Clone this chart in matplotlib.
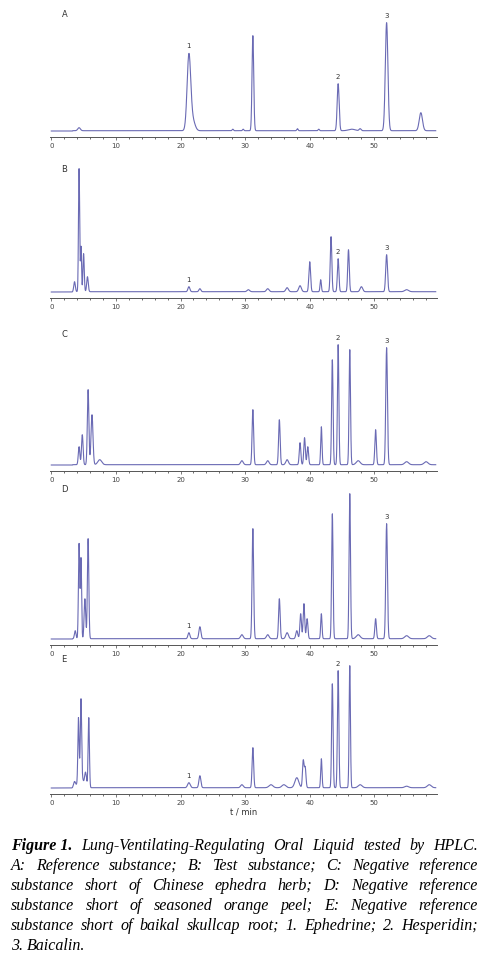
import numpy as np
import matplotlib
matplotlib.use("Agg")
import matplotlib.pyplot as plt
from matplotlib.ticker import MultipleLocator

W, H = 487, 968
LINE = "#6a6ab4"

# peaks: (retention time min, height, width sigma)
peaks_A = [(4.3, 3, 0.2), (21.3, 75, 0.28), (21.9, 10, 0.35), (28.1, 1.5, 0.1), (29.7, 1.5, 0.1),
           (31.2, 95, 0.13), (38.1, 2, 0.1), (41.4, 1.5, 0.1), (44.4, 47, 0.15), (46.5, 1.5, 0.5),
           (47.8, 2, 0.15), (51.9, 108, 0.2), (57.2, 18, 0.25)]
peaks_B = [(3.6, 10, 0.12), (4.3, 123, 0.09), (4.6, 45, 0.08), (5.0, 38, 0.1), (5.6, 15, 0.12),
           (21.3, 5, 0.15), (23.0, 3, 0.15), (30.5, 2, 0.2), (33.5, 3, 0.2), (36.5, 4, 0.2),
           (38.5, 6, 0.2), (40.0, 30, 0.13), (41.7, 12, 0.1), (43.3, 55, 0.12), (44.4, 33, 0.12),
           (46.0, 42, 0.12), (48.0, 5, 0.2), (51.9, 37, 0.14), (55.0, 2, 0.3)]
peaks_C = [(4.3, 18, 0.12), (4.8, 30, 0.12), (5.7, 75, 0.12), (6.3, 50, 0.15), (7.5, 5, 0.3),
           (29.5, 4, 0.2), (31.2, 55, 0.12), (33.5, 4, 0.2), (35.3, 45, 0.12), (36.5, 5, 0.2),
           (38.5, 22, 0.12), (39.2, 27, 0.12), (39.7, 18, 0.12), (41.8, 38, 0.1), (43.5, 105, 0.11),
           (44.4, 120, 0.11), (46.2, 115, 0.11), (47.5, 4, 0.3), (50.2, 35, 0.12), (51.9, 117, 0.13),
           (55.0, 3, 0.3), (58.0, 3, 0.3)]
peaks_D = [(3.7, 8, 0.12), (4.3, 95, 0.1), (4.6, 80, 0.09), (5.2, 40, 0.12), (5.7, 100, 0.11),
           (21.3, 6, 0.15), (23.0, 12, 0.15), (29.5, 4, 0.2), (31.2, 110, 0.12), (33.5, 4, 0.2),
           (35.3, 40, 0.12), (36.5, 6, 0.2), (38.0, 8, 0.15), (38.6, 25, 0.12), (39.1, 35, 0.12),
           (39.6, 20, 0.12), (41.8, 25, 0.1), (43.5, 125, 0.11), (46.2, 145, 0.11), (47.5, 4, 0.3),
           (50.2, 20, 0.12), (51.9, 115, 0.13), (55.0, 3, 0.3), (58.5, 3, 0.3)]
peaks_E = [(3.6, 6, 0.15), (4.2, 58, 0.09), (4.6, 70, 0.09), (4.5, 20, 0.3), (5.3, 15, 0.15),
           (5.8, 70, 0.1), (21.3, 5, 0.2), (23.0, 12, 0.15), (29.5, 3, 0.2), (31.2, 40, 0.12),
           (34.0, 3, 0.3), (36.0, 3, 0.3), (38.0, 10, 0.3), (39.0, 27, 0.12), (39.3, 20, 0.12),
           (41.8, 29, 0.1), (43.5, 104, 0.11), (44.4, 117, 0.11), (46.2, 122, 0.1), (47.8, 3, 0.3),
           (55.0, 1.5, 0.3), (58.5, 3, 0.3)]

# peak labels: (time, label)
labels_A = [(21.3, "1"), (44.4, "2"), (51.9, "3")]
labels_B = [(21.3, "1"), (44.4, "2"), (51.9, "3")]
labels_C = [(44.4, "2"), (51.9, "3")]
labels_D = [(21.3, "1"), (51.9, "3")]
labels_E = [(21.3, "1"), (44.4, "2")]

# panels: name, peaks, labels, top px, axis px
panels = [("A", peaks_A, labels_A, 10, 137),
          ("B", peaks_B, labels_B, 165, 298),
          ("C", peaks_C, labels_C, 330, 471),
          ("D", peaks_D, labels_D, 485, 645),
          ("E", peaks_E, labels_E, 655, 794)]

t = np.linspace(0, 59.5, 4000)
fig = plt.figure(figsize=(W / 100, H / 100), dpi=100)
x0, x1 = 50, 437
for name, pk, lb, top, axy in panels:
    ax = fig.add_axes([x0 / W, 1 - axy / H, (x1 - x0) / W, (axy - top) / H])
    ax.patch.set_alpha(0)
    y = np.zeros_like(t) + 0.3 * (t > 3.3)
    for c, h, s in pk:
        y += h * np.exp(-0.5 * ((t - c) / s) ** 2)
    ax.plot(t, y, color=LINE, lw=0.8)
    ax.set_xlim(-0.2, 59.7)
    ax.set_ylim(-6, axy - top - 6)
    for sp in ["top", "left", "right"]:
        ax.spines[sp].set_visible(False)
    ax.spines["bottom"].set_linewidth(0.7)
    ax.spines["bottom"].set_color("#555555")
    ax.set_yticks([])
    ax.xaxis.set_major_locator(MultipleLocator(10))
    ax.xaxis.set_minor_locator(MultipleLocator(2))
    ax.tick_params(axis="x", labelsize=5, length=2.5, width=0.5, pad=2, colors="#444444")
    ax.tick_params(axis="x", which="minor", length=1.5, width=0.4)
    ax.text(0.03, 1.0, name, transform=ax.transAxes, fontsize=6,
            color="#333333", va="top")
    for c, s in lb:
        i = np.argmin(np.abs(t - c))
        ax.text(c, y[i] + 4, s, fontsize=5, ha="center", va="bottom", color="#333333")
    if name == "E":
        ax.set_xlabel("t / min", fontsize=6, labelpad=1, color="#333333")

# justified caption
lines = [
    [("Figure 1.", True), "Lung-Ventilating-Regulating", "Oral", "Liquid", "tested", "by", "HPLC."],
    ["A:", "Reference", "substance;", "B:", "Test", "substance;", "C:", "Negative", "reference"],
    ["substance", "short", "of", "Chinese", "ephedra", "herb;", "D:", "Negative", "reference"],
    ["substance", "short", "of", "seasoned", "orange", "peel;", "E:", "Negative", "reference"],
    ["substance", "short", "of", "baikal", "skullcap", "root;", "1.", "Ephedrine;", "2.", "Hesperidin;"],
    ["3.", "Baicalin."],
]
fig.canvas.draw()
r = fig.canvas.get_renderer()
L, R = 11, 478
y0, dy = 850, 20
for k, words in enumerate(lines):
    items = []
    for w in words:
        bold = isinstance(w, tuple)
        s = w[0] if bold else w
        tx = fig.text(0, 0, s, fontsize=11.5, family="Liberation Serif", style="italic",
                      weight="bold" if bold else "normal", va="baseline")
        items.append(tx)
    widths = [tx.get_window_extent(r).width for tx in items]
    if k == len(lines) - 1:
        gap = 4
    else:
        gap = (R - L - sum(widths)) / (len(items) - 1)
    x = L
    for tx, wd in zip(items, widths):
        tx.set_position((x / W, 1 - (y0 + k * dy) / H))
        x += wd + gap

fig.savefig("out.png", dpi=100)
